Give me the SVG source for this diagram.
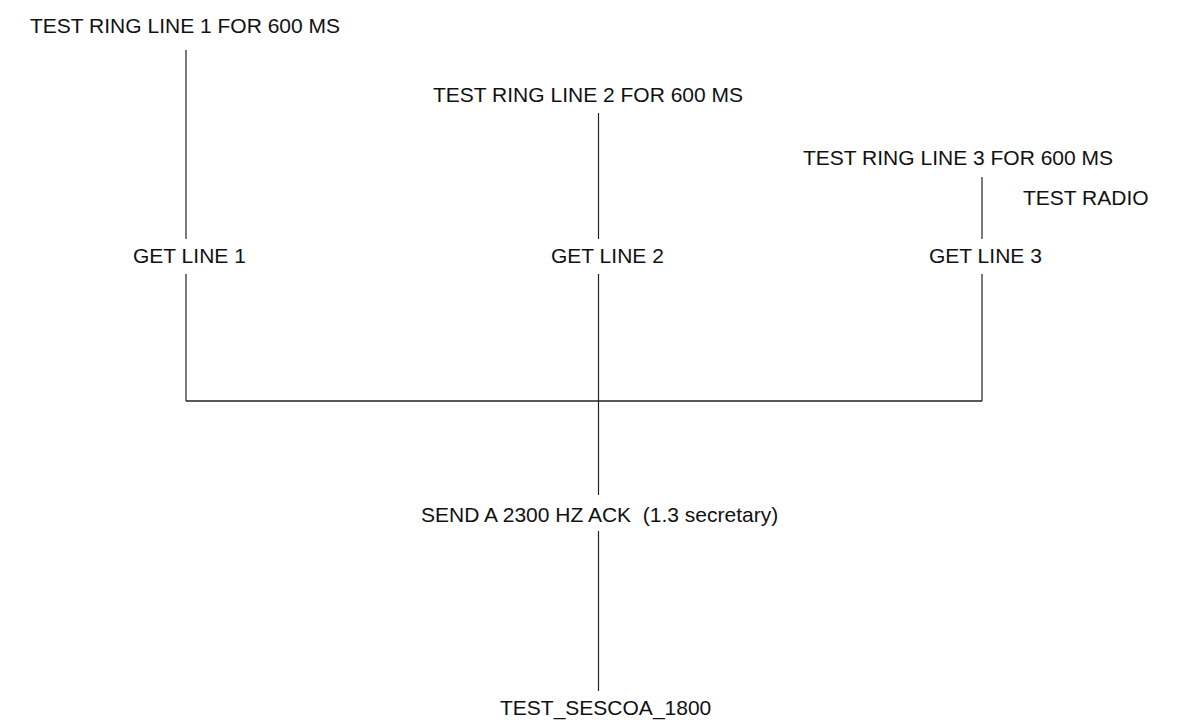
<svg xmlns="http://www.w3.org/2000/svg" width="1179" height="723" viewBox="0 0 1179 723">
<style>
text{font-family:"Liberation Sans",Arial,sans-serif;font-size:21px;fill:#111;white-space:pre}
.c line{stroke:#222;stroke-width:1.2;fill:none}
</style>
<rect width="1179" height="723" fill="#fff"/>
<g class="c" id="connectors">
<line x1="186" y1="50" x2="186" y2="239"/>
<line x1="186" y1="274" x2="186" y2="401"/>
<line x1="598.5" y1="113" x2="598.5" y2="239"/>
<line x1="598.5" y1="274" x2="598.5" y2="495"/>
<line x1="598.5" y1="531" x2="598.5" y2="691"/>
<line x1="982" y1="177" x2="982" y2="239"/>
<line x1="982" y1="274" x2="982" y2="401"/>
<line x1="186" y1="401" x2="982" y2="401" style="stroke-width:1.6"/>
</g>
<g id="ring1"><text x="30" y="33">TEST RING LINE 1 FOR 600 MS</text></g>
<g id="ring2"><text x="433" y="102">TEST RING LINE 2 FOR 600 MS</text></g>
<g id="ring3"><text x="803" y="165">TEST RING LINE 3 FOR 600 MS</text></g>
<g id="radio"><text x="1023" y="205">TEST RADIO</text></g>
<g id="get1"><text x="133" y="263">GET LINE 1</text></g>
<g id="get2"><text x="551" y="263">GET LINE 2</text></g>
<g id="get3"><text x="929" y="263">GET LINE 3</text></g>
<g id="ack"><text x="421" y="522">SEND A 2300 HZ ACK  (1.3 secretary)</text></g>
<g id="sescoa"><text x="500" y="715">TEST_SESCOA_1800</text></g>
</svg>
